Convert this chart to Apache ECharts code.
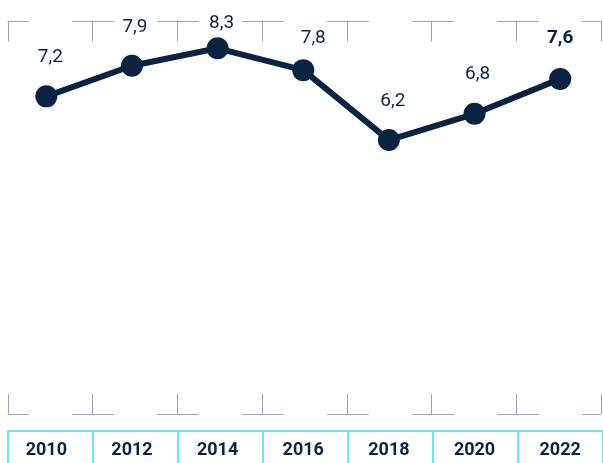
<!DOCTYPE html>
<html><head><meta charset="utf-8">
<script src="https://cdn.jsdelivr.net/npm/echarts@6/dist/echarts.min.js"></script>
<style>html,body{margin:0;padding:0;background:#fff}#chart{width:603px;height:463px}</style>
</head><body><div id="chart"></div>
<script>
// Series values by survey year
const years = ['2010', '2012', '2014', '2016', '2018', '2020', '2022'];
const values = [7.2, 7.9, 8.3, 7.8, 6.2, 6.8, 7.6];
const highlightIndex = values.length - 1; // latest year shown in bold

const navy = '#0b2341';
const frame = '#9ba5b3';
const cellBorder = '#6fe6ef';
const font = 'Roboto, "Noto Sans", sans-serif';

const chart = echarts.init(document.getElementById('chart'), null, { renderer: 'canvas' });

// Small label nudges so value labels sit in the frame gaps and clear the line
const labelNudge = [[4, 0], [3, 1], [4, 14], [10, 8], [4, 1], [3, 0], [0, -1]];

const seriesData = values.map((v, i) => ({
  value: v,
  label: Object.assign(
    { offset: labelNudge[i] },
    i === highlightIndex ? { fontWeight: 'bold' } : {}
  )
}));

// Bracket-style frame: short axis-line segments around each boundary plus inner ticks
const frameAxis = (position) => ({
  type: 'category', gridIndex: 1, data: years, position, boundaryGap: true,
  axisLine: { show: true, onZero: false, lineStyle: { color: frame, width: 1, type: [41, 44], dashOffset: 20.5 } },
  axisTick: { show: true, inside: true, length: 20, lineStyle: { color: frame, width: 1 } },
  axisLabel: { show: false }, splitLine: { show: false }
});

const option = {
  animation: false,
  grid: [
    { left: 3.5, width: 600, top: 17.7, height: 393.3 },
    { left: 8, right: 2, top: 21.5, bottom: 49 },
    { left: 8, width: 598, top: 431, height: 80 }
  ],
  xAxis: [
    {
      type: 'category', gridIndex: 0, data: years, boundaryGap: true,
      axisLine: { show: false, onZero: false }, axisTick: { show: false },
      axisLabel: { show: true, margin: 30, color: navy, fontWeight: 'bold', fontSize: 18, fontFamily: font }
    },
    frameAxis('top'),
    frameAxis('bottom'),
    {
      type: 'category', gridIndex: 2, data: years, position: 'top', boundaryGap: true,
      axisLine: { show: true, onZero: false, lineStyle: { color: cellBorder, width: 2 } },
      axisTick: { show: false }, axisLabel: { show: false },
      splitLine: { show: true, lineStyle: { color: cellBorder, width: 2 } }
    }
  ],
  yAxis: [
    { type: 'value', gridIndex: 0, min: 0, max: 9, show: false },
    { type: 'value', gridIndex: 1, min: 0, max: 1, show: false },
    { type: 'value', gridIndex: 2, min: 0, max: 1, show: false }
  ],
  series: [{
    type: 'line', xAxisIndex: 0, yAxisIndex: 0, data: seriesData,
    symbol: 'circle', symbolSize: 22,
    lineStyle: { color: navy, width: 6 },
    itemStyle: { color: navy },
    label: {
      show: true, position: 'top', distance: 19, color: navy, fontSize: 19, fontFamily: font,
      formatter: p => String(p.value).replace('.', ',')
    }
  }]
};
chart.setOption(option);
</script>
</body></html>
